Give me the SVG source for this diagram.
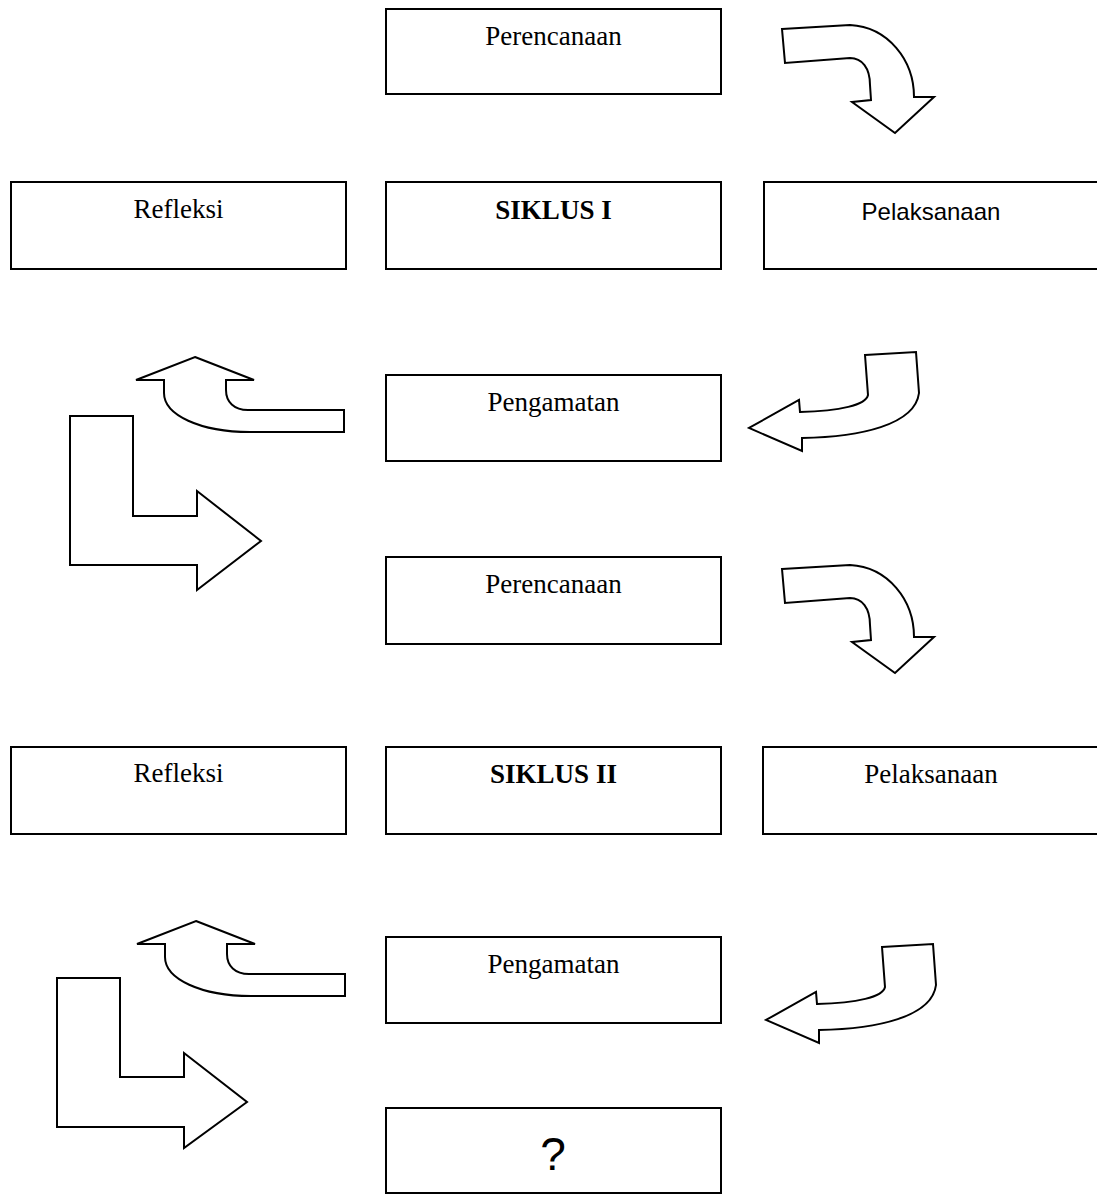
<svg xmlns="http://www.w3.org/2000/svg" width="1097" height="1195" viewBox="0 0 1097 1195">
<style>
.box{fill:#fff;stroke:#000;stroke-width:2}
.arr{fill:#fff;stroke:#000;stroke-width:2;stroke-linejoin:miter}
.serif{font-family:"Liberation Serif","Times New Roman",serif;font-size:27px;fill:#000;text-anchor:middle}
.bold{font-weight:bold}
.sans{font-family:"Liberation Sans",Arial,sans-serif;font-size:24px;fill:#000;text-anchor:middle}
</style>
<defs>
<path id="curveDown" d="M782,29 L850,25 C888,27 914,60 914,97 L934,97 L895,133 L852,102 L871,100 L870,85 C870,68 862,58 850,58 L785,63 Z"/>
<path id="curveLeft" d="M865,355 L916,352 L919,393 C915,425 860,437 802,438 L802,451 L749,428 L799,400 L800,412 C840,411 866,405 868,395 Z"/>
<path id="curveUp" d="M195,357 L254,380 L226,380 L226,390 C226,402 234,410 248,410 L344,410 L344,432 L250,432 C200,432 164,415 164,393 L164,380 L136,380 Z"/>
</defs>
<rect width="1097" height="1195" fill="#fff"/>
<g id="connectors">
<use href="#curveDown" class="arr"/>
<use href="#curveLeft" class="arr"/>
<use href="#curveUp" class="arr"/>
<path class="arr" d="M70,416 L133,416 L133,516 L197,516 L197,491 L261,541 L197,590 L197,565 L70,565 Z"/>
<use href="#curveDown" class="arr" transform="translate(0,540)"/>
<use href="#curveLeft" class="arr" transform="translate(17,592)"/>
<use href="#curveUp" class="arr" transform="translate(1,564)"/>
<path class="arr" d="M57,978 L120,978 L120,1077 L184,1077 L184,1053 L247,1102 L184,1148 L184,1127 L57,1127 Z"/>
</g>
<g id="perencanaan1"><rect class="box" x="386" y="9" width="335" height="85"/><text class="serif" x="553.5" y="45">Perencanaan</text></g>
<g id="refleksi1"><rect class="box" x="11" y="182" width="335" height="87"/><text class="serif" x="178.5" y="218">Refleksi</text></g>
<g id="siklus1"><rect class="box" x="386" y="182" width="335" height="87"/><text class="serif bold" x="553.5" y="219">SIKLUS I</text></g>
<g id="pelaksanaan1"><rect class="box" x="764" y="182" width="334" height="87"/><text class="sans" x="931" y="220">Pelaksanaan</text></g>
<g id="pengamatan1"><rect class="box" x="386" y="375" width="335" height="86"/><text class="serif" x="553.5" y="411">Pengamatan</text></g>
<g id="perencanaan2"><rect class="box" x="386" y="557" width="335" height="87"/><text class="serif" x="553.5" y="593">Perencanaan</text></g>
<g id="refleksi2"><rect class="box" x="11" y="747" width="335" height="87"/><text class="serif" x="178.5" y="782">Refleksi</text></g>
<g id="siklus2"><rect class="box" x="386" y="747" width="335" height="87"/><text class="serif bold" x="553.5" y="783">SIKLUS II</text></g>
<g id="pelaksanaan2"><rect class="box" x="763" y="747" width="335" height="87"/><text class="serif" x="931" y="783">Pelaksanaan</text></g>
<g id="pengamatan2"><rect class="box" x="386" y="937" width="335" height="86"/><text class="serif" x="553.5" y="973">Pengamatan</text></g>
<g id="unknown"><rect class="box" x="386" y="1108" width="335" height="85"/><text class="sans" x="553" y="1170" style="font-size:46px">?</text></g>
</svg>
